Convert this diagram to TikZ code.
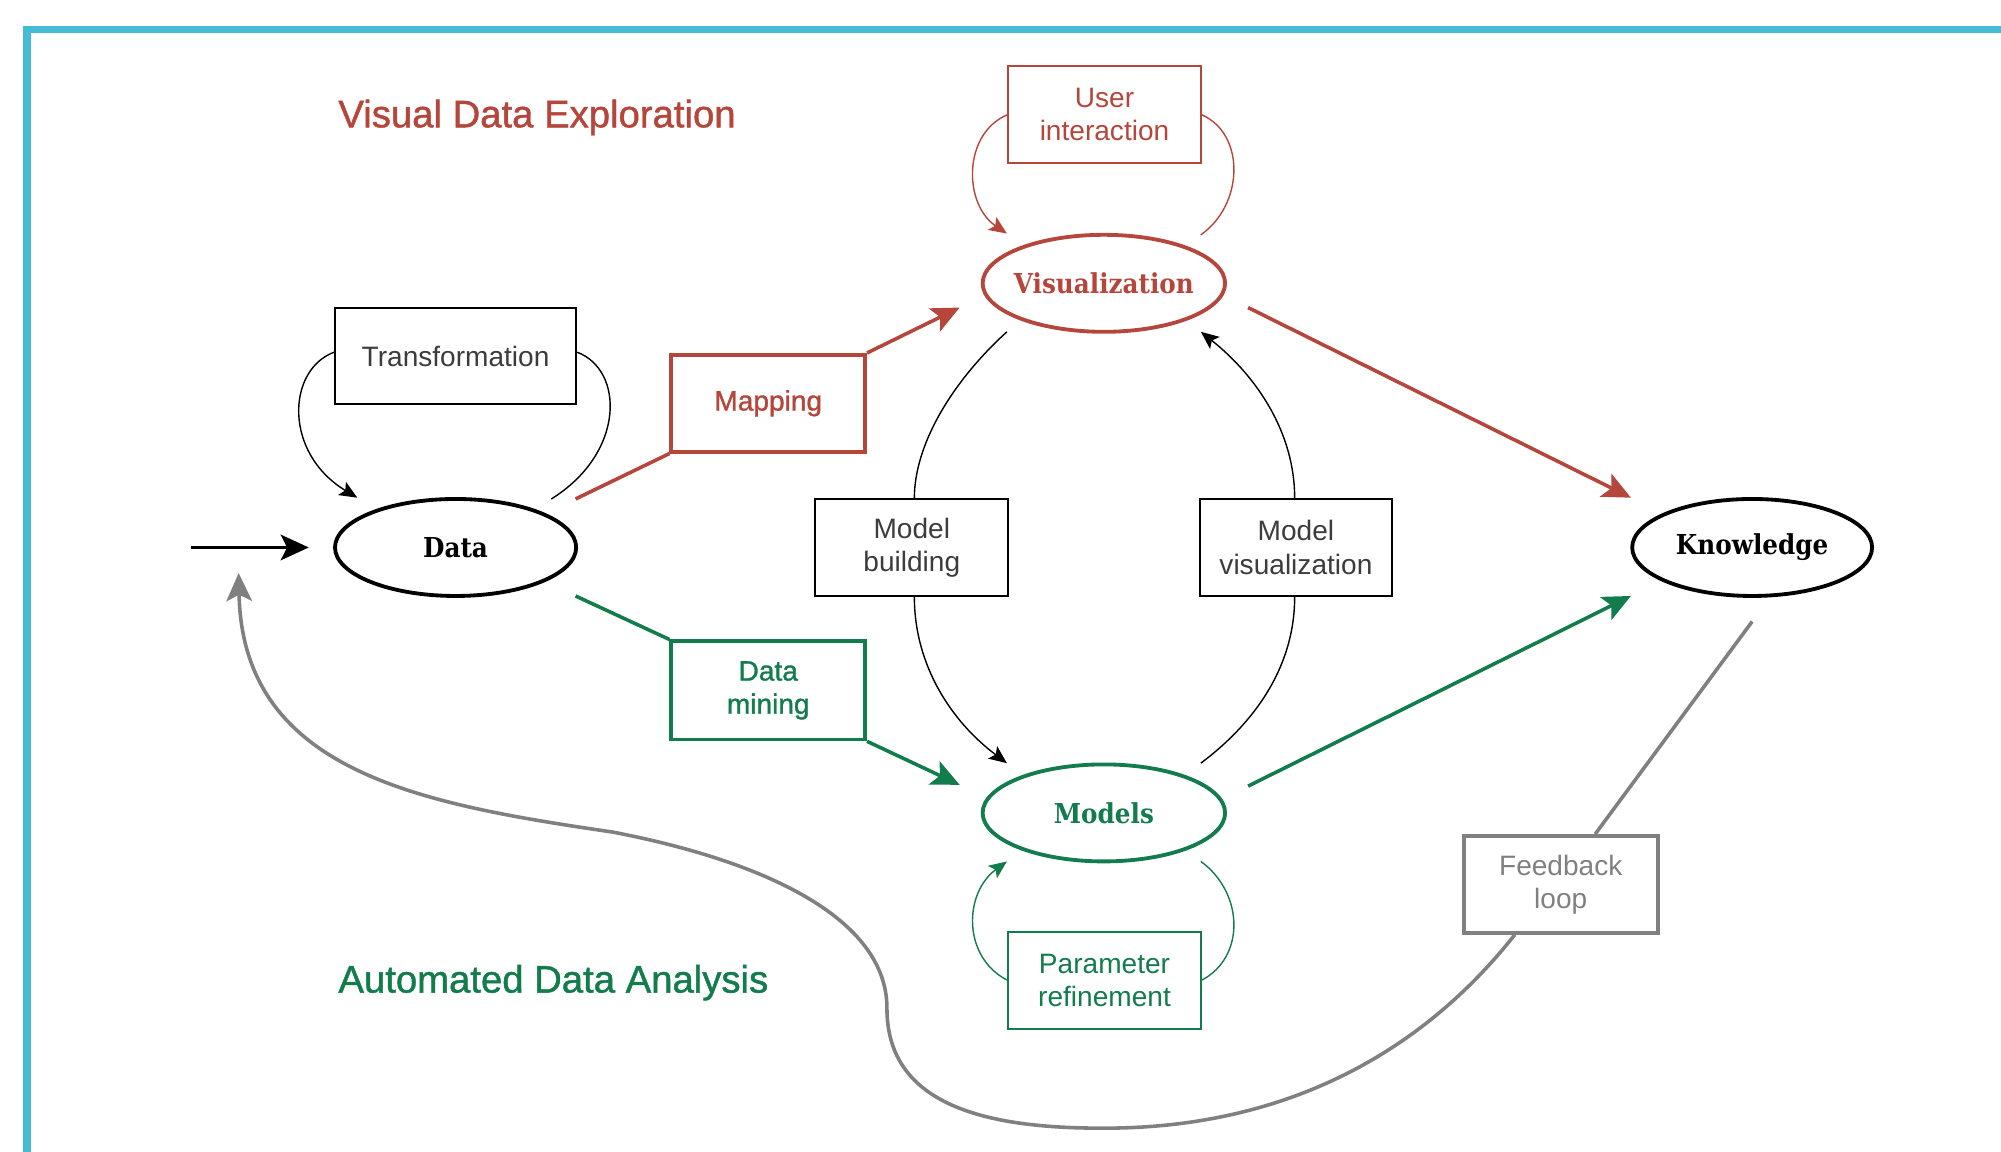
\documentclass[tikz,border=0pt]{standalone}
\usepackage{fontspec}
\setmainfont{Liberation Sans}
\newfontfamily\medsans[FakeBold=1.2]{Liberation Sans}
\newfontfamily\slab[FakeStretch=0.9]{DejaVu Serif}
\usetikzlibrary{shapes.geometric,arrows.meta}
\newcommand\zw[1]{\makebox[0pt]{#1}}
\definecolor{vred}{RGB}{181,70,60}
\definecolor{vgreen}{RGB}{18,124,76}
\definecolor{fgray}{RGB}{128,128,128}
\definecolor{fblue}{RGB}{69,187,214}
\definecolor{txtgray}{RGB}{60,60,60}
\tikzset{
  ell/.style={ellipse, draw, line width=3pt, minimum width=189pt, minimum height=76pt, inner sep=0pt,
    font=\slab\bfseries\fontsize{21.5}{24}\selectfont},
  box/.style={rectangle, draw=black, line width=1.6pt, minimum width=151pt, minimum height=76pt,
    inner sep=0pt, align=center, font=\fontsize{22}{26}\selectfont, text=txtgray},
  cbox/.style={box, line width=2.8pt},
  thinline/.style={line width=1.1pt},
  thinarrow/.style={thinline, -{Stealth[length=14pt,width=12pt,inset=3pt]}},
  bigline/.style={line width=2.8pt},
  bigarrow/.style={bigline, -{Stealth[length=22pt,width=20pt,inset=5pt]}},
  title/.style={anchor=west, inner sep=0pt, font=\medsans\fontsize{30}{34}\selectfont}
}
\begin{document}
\begin{tikzpicture}[x=1pt,y=-1pt]
\useasboundingbox (0,0) rectangle (1568,902);
\clip (0,0) rectangle (1568,902);
% frame
\draw[fblue, line width=6pt] (21,910) -- (21,23) -- (1580,23);

% titles
\node[title, text=vred] (t1) at (265,92) {Visual Data Exploration};
\node[title, text=vgreen] (t2) at (265,770) {Automated Data Analysis};

% main nodes
\node[ell, draw=black] (data) at (357,429) {\zw{Data}};
\node[ell, draw=vred, text=vred, minimum width=190pt] (vis) at (865,222) {\zw{Visualization}};
\node[ell, draw=vgreen, text=vgreen, minimum width=190pt] (models) at (865,637) {\zw{Models}};
\node[ell, draw=black, minimum width=188pt] (know) at (1373,429) {\zw{Knowledge}};

% boxes
\node[box, minimum width=189pt, minimum height=75pt] (trans) at (357,279) {Transformation};
\node[cbox, draw=vred, text=vred, minimum width=152pt, font=\medsans\fontsize{22}{26}\selectfont] (map) at (602,316) {Mapping};
\node[cbox, draw=vgreen, text=vgreen, minimum width=152pt, minimum height=77pt, font=\medsans\fontsize{22}{26}\selectfont] (dm) at (602,541) {Data\\mining};
\node[box, draw=vred, text=vred] (ui) at (865.5,90) {User\\interaction};
\node[box, draw=vgreen, text=vgreen] (pr) at (865.5,768) {Parameter\\refinement};
\node[box] (mb) at (714.5,429) {Model\\building};
\node[box] (mv) at (1015.5,429) {Model\\visualization};
\node[cbox, draw=fgray, text=fgray, minimum width=152pt] (fb) at (1223,693) {Feedback\\loop};

\coordinate (src) at (150,429);

% input arrow
\draw[bigarrow, black] (src) -- ([shift={(-19,0)}]data.west);

% transformation loop
\draw[thinarrow] ([shift={(0,-3)}]trans.west) .. controls +(-37,14) and +(-58,-35) .. ([shift={(-77,-39)}]data.center);
\draw[thinline] ([shift={(0,-3)}]trans.east) .. controls +(37,14) and +(58,-36) .. ([shift={(75,-38)}]data.center);

% user interaction loop
\draw[thinarrow, vred] (ui.west) .. controls +(-35,15) and +(-34,-23) .. ([shift={(-76,-39)}]vis.center);
\draw[thinline, vred] (ui.east) .. controls +(34,15) and +(34,-24) .. ([shift={(76,-38)}]vis.center);

% parameter refinement loop
\draw[thinarrow, vgreen] (pr.west) .. controls +(-35,-18) and +(-34,25) .. ([shift={(-76,38)}]models.center);
\draw[thinline, vgreen] (pr.east) .. controls +(34,-18) and +(34,25) .. ([shift={(76,38)}]models.center);

% model building / visualization
\draw[thinline] ([shift={(-76,38)}]vis.center) .. controls +(-44,40) and +(0,-41) .. ([shift={(2,0)}]mb.north);
\draw[thinarrow] ([shift={(2,0)}]mb.south) .. controls +(0,53) and +(-44,-33) .. ([shift={(-76,-39)}]models.center);
\draw[thinline] ([shift={(76,-39)}]models.center) .. controls +(44,-33) and +(0,53) .. ([shift={(-1,0)}]mv.south);
\draw[thinarrow] ([shift={(-1,0)}]mv.north) .. controls +(0,-51) and +(44,35) .. ([shift={(76,38)}]vis.center);

% mapping path
\draw[bigline, vred] ([shift={(94,-38)}]data.center) -- (map.south west);
\draw[bigarrow, vred] (map.north east) -- ([shift={(-113,19)}]vis.center);
% data mining path
\draw[bigline, vgreen] ([shift={(94,38)}]data.center) -- (dm.north west);
\draw[bigarrow, vgreen] (dm.south east) -- ([shift={(-113,-22)}]models.center);

% to knowledge
\draw[bigarrow, vred] ([shift={(113,19)}]vis.center) -- ([shift={(-95,-39)}]know.center);
\draw[bigarrow, vgreen] ([shift={(113,-21)}]models.center) -- ([shift={(-95,38)}]know.center);

% feedback loop
\draw[bigline, fgray] ([shift={(0,58)}]know.center) -- ([shift={(27,0)}]fb.north);
\draw[bigarrow, fgray] ([shift={(-36,0)}]fb.south) .. controls (1110,830) and (1000,885) .. (862,884)
  .. controls (760,884) and (695,860) .. (695,790)
  .. controls (695,720) and (600,675) .. (480,652)
  .. controls (330,630) and (190,605) .. ([shift={(37,20)}]src);
\end{tikzpicture}
\end{document}
